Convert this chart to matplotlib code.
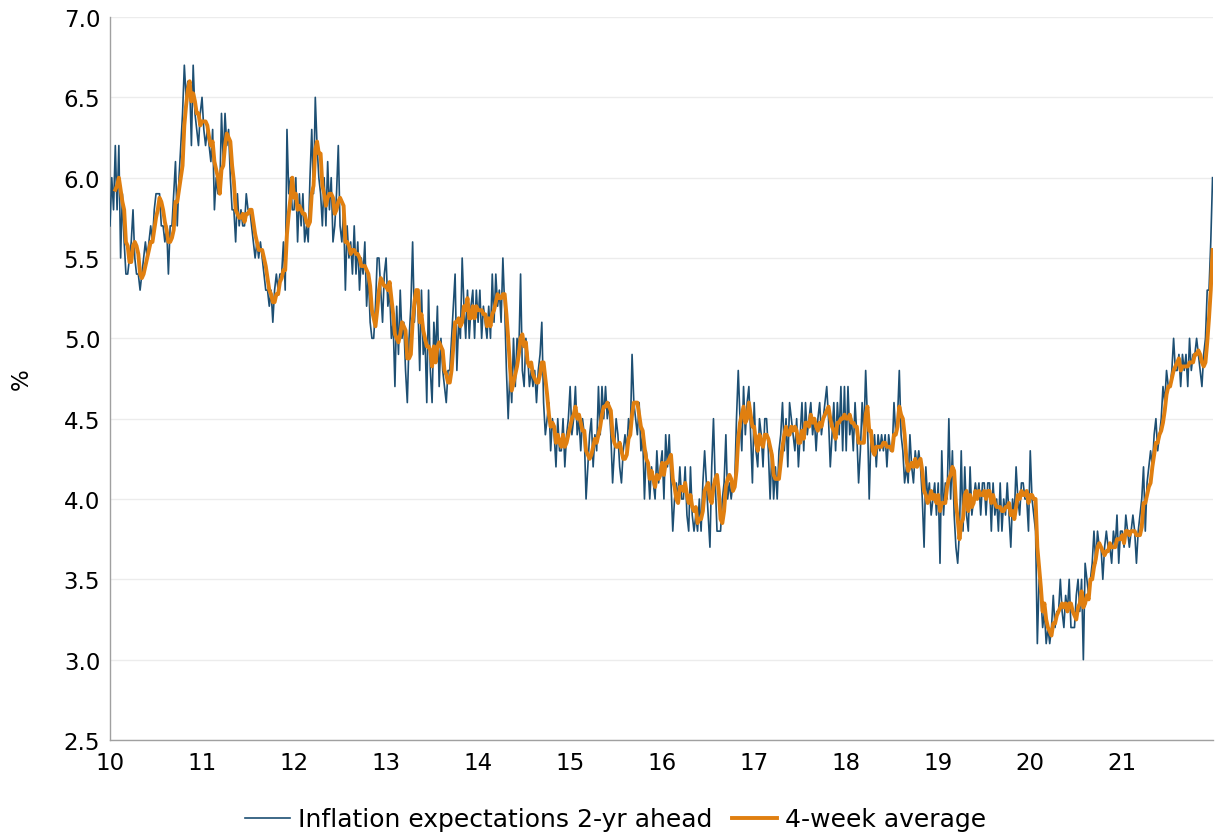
import matplotlib
matplotlib.use("Agg")
import matplotlib.pyplot as plt
import numpy as np
import pandas as pd

# Weekly survey values (%), one list per year, 52 weeks each
y2010 = [5.7, 6.0, 5.8, 6.2, 5.8, 6.2, 5.5, 5.9, 5.6, 5.4, 5.4, 5.5, 5.6,
         5.8, 5.5, 5.4, 5.4, 5.3, 5.4, 5.5, 5.6, 5.5, 5.6, 5.7, 5.6, 5.8,
         5.9, 5.9, 5.9, 5.7, 5.7, 5.6, 5.7, 5.4, 5.7, 5.7, 5.9, 6.1, 5.7,
         6.0, 6.2, 6.4, 6.7, 6.5, 6.6, 6.6, 6.2, 6.7, 6.4, 6.3, 6.2, 6.4]
y2011 = [6.5, 6.3, 6.2, 6.3, 6.2, 6.1, 6.3, 5.8, 6.0, 5.9, 5.9, 6.4, 6.1,
         6.4, 6.2, 6.3, 6.0, 5.8, 5.8, 5.6, 5.9, 5.7, 5.8, 5.7, 5.7, 5.9,
         5.8, 5.8, 5.7, 5.6, 5.5, 5.6, 5.5, 5.6, 5.5, 5.4, 5.3, 5.3, 5.2,
         5.3, 5.1, 5.3, 5.4, 5.3, 5.4, 5.4, 5.6, 5.3, 6.3, 5.9, 6.0, 5.8]
y2012 = [5.8, 6.0, 5.6, 5.9, 5.7, 5.9, 5.6, 5.7, 5.6, 6.0, 6.3, 5.9, 6.5,
         6.2, 6.0, 5.9, 5.7, 6.0, 5.7, 6.1, 5.8, 6.0, 5.6, 5.7, 5.9, 6.2,
         5.7, 5.6, 5.8, 5.3, 5.7, 5.5, 5.6, 5.4, 5.7, 5.4, 5.6, 5.3, 5.5,
         5.4, 5.6, 5.2, 5.4, 5.1, 5.0, 5.0, 5.2, 5.5, 5.5, 5.3, 5.1, 5.4]
y2013 = [5.5, 5.2, 5.3, 5.0, 5.1, 4.7, 5.2, 4.9, 5.3, 5.0, 5.1, 4.8, 4.6,
         5.0, 5.2, 5.6, 5.1, 5.3, 5.2, 4.8, 5.3, 4.9, 5.0, 4.6, 5.3, 4.8,
         4.6, 5.1, 4.9, 5.2, 4.7, 5.0, 4.8, 4.7, 4.6, 4.8, 4.8, 5.0, 5.2,
         5.4, 4.8, 5.1, 5.0, 5.5, 5.2, 5.0, 5.3, 5.0, 5.2, 5.3, 5.0, 5.3]
y2014 = [5.1, 5.3, 5.0, 5.2, 5.1, 5.0, 5.2, 5.0, 5.4, 5.1, 5.4, 5.2, 5.3,
         5.1, 5.5, 5.2, 4.8, 4.5, 4.8, 4.6, 5.0, 4.7, 5.0, 4.9, 5.4, 4.8,
         4.7, 5.0, 4.9, 4.7, 4.8, 4.7, 4.8, 4.6, 4.8, 4.9, 5.1, 4.6, 4.4,
         4.5, 4.6, 4.3, 4.5, 4.4, 4.2, 4.5, 4.3, 4.3, 4.5, 4.2, 4.4, 4.5]
y2015 = [4.7, 4.4, 4.5, 4.7, 4.4, 4.5, 4.3, 4.5, 4.4, 4.0, 4.2, 4.4, 4.5,
         4.2, 4.4, 4.3, 4.7, 4.4, 4.7, 4.5, 4.7, 4.5, 4.6, 4.4, 4.1, 4.3,
         4.5, 4.4, 4.2, 4.1, 4.3, 4.4, 4.3, 4.5, 4.4, 4.9, 4.6, 4.5, 4.4,
         4.6, 4.3, 4.4, 4.0, 4.3, 4.2, 4.0, 4.2, 4.1, 4.0, 4.3, 4.1, 4.2]
y2016 = [4.3, 4.0, 4.4, 4.2, 4.4, 4.1, 3.8, 4.0, 4.1, 4.0, 4.2, 4.0, 4.0,
         4.2, 3.9, 3.8, 4.2, 3.9, 3.8, 3.9, 3.8, 4.0, 3.8, 4.1, 4.3, 4.1,
         3.9, 3.7, 4.2, 4.5, 4.1, 3.8, 3.8, 3.8, 4.0, 4.1, 4.4, 4.0, 4.1,
         4.0, 4.1, 4.1, 4.5, 4.8, 4.5, 4.3, 4.7, 4.4, 4.6, 4.7, 4.4, 4.1]
y2017 = [4.6, 4.3, 4.2, 4.5, 4.4, 4.2, 4.5, 4.5, 4.3, 4.0, 4.3, 4.0, 4.2,
         4.0, 4.3, 4.4, 4.6, 4.3, 4.5, 4.2, 4.6, 4.5, 4.4, 4.3, 4.5, 4.2,
         4.4, 4.6, 4.3, 4.6, 4.4, 4.5, 4.6, 4.4, 4.5, 4.3, 4.5, 4.6, 4.4,
         4.5, 4.6, 4.7, 4.5, 4.2, 4.4, 4.6, 4.3, 4.6, 4.4, 4.7, 4.3, 4.7]
y2018 = [4.3, 4.7, 4.4, 4.5, 4.3, 4.6, 4.4, 4.1, 4.3, 4.6, 4.4, 4.8, 4.5,
         4.0, 4.4, 4.3, 4.4, 4.2, 4.4, 4.3, 4.4, 4.3, 4.4, 4.2, 4.4, 4.3,
         4.3, 4.6, 4.4, 4.5, 4.8, 4.4, 4.3, 4.1, 4.2, 4.1, 4.4, 4.2, 4.1,
         4.3, 4.2, 4.3, 4.2, 4.0, 3.7, 4.2, 4.0, 4.1, 3.9, 4.0, 4.1, 3.9]
y2019 = [4.1, 3.6, 4.3, 3.9, 4.1, 4.0, 4.5, 4.0, 4.3, 3.9, 3.7, 3.6, 3.8,
         4.3, 3.8, 4.2, 3.9, 3.8, 4.2, 3.9, 4.0, 4.1, 4.0, 4.1, 3.9, 4.1,
         4.1, 3.9, 4.1, 4.1, 3.8, 4.1, 3.9, 4.0, 3.8, 4.1, 3.8, 4.0, 3.9,
         4.1, 3.9, 3.7, 4.0, 3.9, 4.2, 4.0, 3.9, 4.1, 4.1, 4.0, 4.0, 3.8]
y2020 = [4.3, 4.0, 3.9, 3.8, 3.1, 3.5, 3.4, 3.2, 3.3, 3.1, 3.2, 3.1, 3.2,
         3.4, 3.2, 3.3, 3.3, 3.5, 3.3, 3.2, 3.4, 3.3, 3.5, 3.2, 3.2, 3.2,
         3.4, 3.5, 3.3, 3.5, 3.0, 3.6, 3.5, 3.4, 3.5, 3.6, 3.8, 3.6, 3.8,
         3.7, 3.7, 3.5, 3.7, 3.8, 3.7, 3.7, 3.6, 3.8, 3.7, 3.9, 3.6, 3.8]
y2021 = [3.8, 3.7, 3.9, 3.8, 3.7, 3.8, 3.9, 3.8, 3.6, 3.8, 3.9, 4.0, 4.2,
         3.8, 4.1, 4.2, 4.3, 4.2, 4.4, 4.5, 4.3, 4.4, 4.5, 4.7, 4.6, 4.8,
         4.7, 4.7, 4.8, 5.0, 4.8, 4.8, 4.9, 4.7, 4.9, 4.8, 4.9, 4.7, 5.0,
         4.8, 4.9, 4.9, 5.0, 4.9, 4.8, 4.7, 4.9, 5.0, 5.3, 5.3, 5.6, 6.0]

years = [10, 11, 12, 13, 14, 15, 16, 17, 18, 19, 20, 21]
yearly = [y2010, y2011, y2012, y2013, y2014, y2015, y2016, y2017, y2018,
          y2019, y2020, y2021]
year_labels = ["10", "11", "12", "13", "14", "15", "16", "17", "18", "19", "20", "21"]
yticks = [2.5, 3.0, 3.5, 4.0, 4.5, 5.0, 5.5, 6.0, 6.5, 7.0]

xs, vals = [], []
for yr, lst in zip(years, yearly):
    n = len(lst)
    for k, v in enumerate(lst):
        xs.append(yr + k / n)
        vals.append(v)
s = pd.Series(vals, index=xs)
avg4 = s.rolling(4).mean()

BLUE = "#1d4f73"
ORANGE = "#e07f10"

fig = plt.figure(figsize=(12.24, 8.37), dpi=100)
ax = fig.add_axes([110 / 1224, 1 - 741 / 837, (1213 - 110) / 1224, (741 - 18) / 837])

ax.plot(s.index, s.values, color=BLUE, lw=1.2,
        label="Inflation expectations 2-yr ahead", zorder=3)
ax.plot(avg4.index, avg4.values, color=ORANGE, lw=2.8,
        label="4-week average", zorder=4)

ax.set_ylim(2.5, 7.0)
ax.set_xlim(10, xs[-1] + 0.005)
ax.set_yticks(yticks)
ax.set_yticklabels([f"{t:.1f}" for t in yticks])
ax.set_xticks(years)
ax.set_xticklabels(year_labels)
ax.tick_params(axis="both", labelsize=16.5, length=0, colors="#000000")
ax.tick_params(axis="y", pad=7)
ax.tick_params(axis="x", pad=8)
ax.grid(axis="y", color="#ececec", lw=1.0, zorder=0)
ax.set_axisbelow(True)
for side in ["top", "right"]:
    ax.spines[side].set_visible(False)
for side in ["left", "bottom"]:
    ax.spines[side].set_color("#a0a0a0")
    ax.spines[side].set_linewidth(1.0)
ax.set_ylabel("%", fontsize=16.5, labelpad=22)

fig.legend(loc="center", bbox_to_anchor=(0.503, 0.02), ncol=2, frameon=False,
           fontsize=18, handlelength=1.8, columnspacing=0.8, handletextpad=0.3)

fig.savefig("out.png", dpi=100)
